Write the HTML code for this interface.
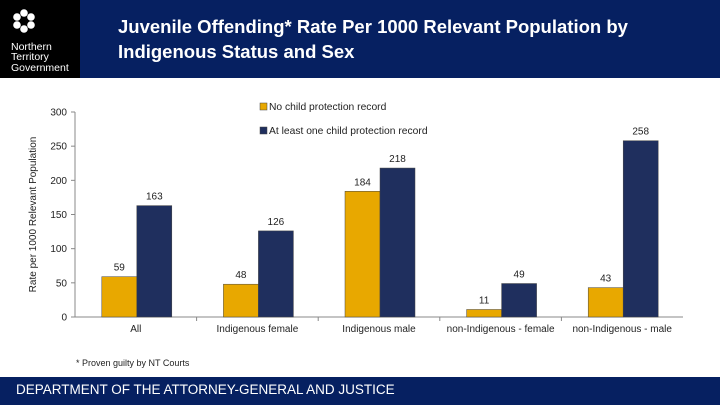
<!DOCTYPE html>
<html><head><meta charset="utf-8"><style>
body{margin:0;width:720px;height:405px;overflow:hidden;background:#fff;font-family:"Liberation Sans",sans-serif;position:relative}
#hdr{position:absolute;left:0;top:0;width:720px;height:78px;background:#062061}
#logo{position:absolute;left:0;top:0;width:80px;height:78px;background:#000;color:#fff}
#title{position:absolute;left:118px;top:14px;color:#fff;font-weight:bold;font-size:18.5px;line-height:25px}
#ftr{position:absolute;left:0;top:377px;width:720px;height:28px;background:#062061;color:#fff;font-size:13.5px}
</style></head><body>
<div id="hdr">
<div id="logo">
<svg width="80" height="78">
<g fill="#fff" transform="translate(24,21)">
<circle cx="0" cy="-8" r="3.8"/><circle cx="7" cy="-4" r="3.8"/><circle cx="7" cy="4" r="3.8"/><circle cx="0" cy="8" r="3.8"/><circle cx="-7" cy="4" r="3.8"/><circle cx="-7" cy="-4" r="3.8"/></g>
<text x="11" y="50" font-size="10.5" fill="#fff" font-family="Liberation Sans">Northern</text>
<text x="11" y="60" font-size="10.5" fill="#fff" font-family="Liberation Sans">Territory</text>
<text x="11" y="71" font-size="10.5" fill="#fff" font-family="Liberation Sans">Government</text>
</svg></div>
<div id="title">Juvenile Offending* Rate Per 1000 Relevant Population by<br>Indigenous Status and Sex</div>
</div>
<svg id="chart" width="720" height="300" style="position:absolute;left:0;top:78px"></svg>
<div id="ftr"><span style="position:absolute;left:16px;top:5px">DEPARTMENT OF THE ATTORNEY-GENERAL AND JUSTICE</span></div>
<script>
const categories=["All","Indigenous female","Indigenous male","non-Indigenous - female","non-Indigenous - male"];
const noRecord=[59,48,184,11,43];
const atLeastOne=[163,126,218,49,258];
const yTicks=[0,50,100,150,200,250,300];
const seriesNames=["No child protection record","At least one child protection record"];
const NS="http://www.w3.org/2000/svg";
const svg=document.getElementById('chart');
const OY=78;
const x0=75,x1=683,y0=317-OY,y1=112-OY;
const gw=(x1-x0)/categories.length;
const Y=v=>y0+(y1-y0)*v/300;
function el(t,a,p){const e=document.createElementNS(NS,t);for(const k in a)e.setAttribute(k,a[k]);(p||svg).appendChild(e);return e;}
function txt(s,a){const e=el('text',Object.assign({'font-family':'Liberation Sans','font-size':10,fill:'#222'},a));e.textContent=s;return e;}
let ax=el('line',{x1:x0,y1:y0,x2:x0,y2:y1,stroke:'#888'});


let xa=el('line',{x1:x0,y1:y0,x2:x1,y2:y0,stroke:'#888'});


yTicks.forEach(v=>{
  el('line',{x1:x0-4,y1:Y(v),x2:x0,y2:Y(v),stroke:'#888'});
  const t=txt(v,{x:x0-8,y:Y(v)+3.5,'text-anchor':'end'});
  
  
});
const yt=txt('Rate per 1000 Relevant Population',{transform:`translate(36,${(y0+y1)/2}) rotate(-90)`,'text-anchor':'middle'});


const cols=['#e8a800','#1f2f5e'];
categories.forEach((c,i)=>{
  const cx=x0+gw*(i+0.5);
  if(i>0) el('line',{x1:x0+gw*i,y1:y0,x2:x0+gw*i,y2:y0+4,stroke:'#888'});
  const l=txt(c,{x:cx,y:y0+15,'text-anchor':'middle'});
  
  
  [noRecord[i],atLeastOne[i]].forEach((v,s)=>{
    const bx=cx-34+s*35;
    const r=el('rect',{x:bx,y:Y(v),width:35,height:y0-Y(v),fill:cols[s],stroke:'#444','stroke-width':0.5});
    
    
    const vl=txt(v,{x:bx+17.5,y:Y(v)-6,'text-anchor':'middle'});
    
    
  });
});
seriesNames.forEach((n,s)=>{
  const ly=109-OY+s*24;
  const sw=el('rect',{x:260,y:ly-6,width:7,height:7,fill:cols[s],stroke:'#444','stroke-width':0.5});
  
  
  const t=txt(n,{x:269,y:ly+1,'font-size':10.3});
  
  
});
const fn=txt('* Proven guilty by NT Courts',{x:76,y:366-OY,'font-size':9});


</script>
</body></html>
